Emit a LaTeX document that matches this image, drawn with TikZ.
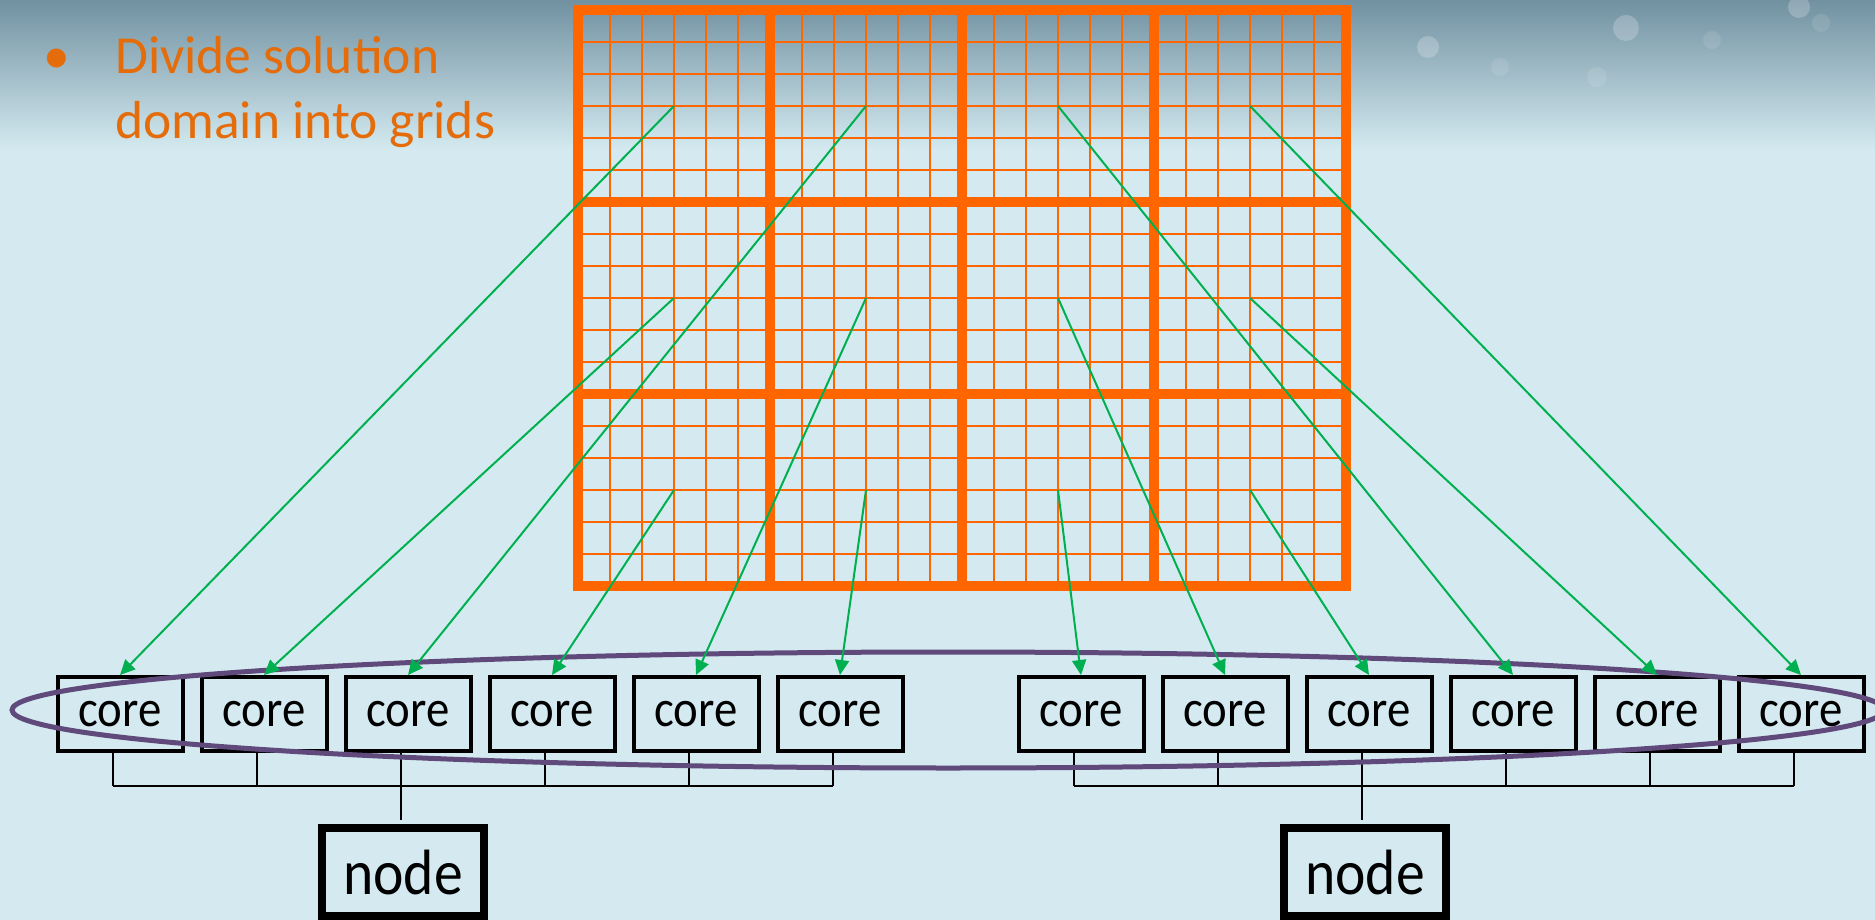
\documentclass[tikz,border=0pt]{standalone}
\usepackage{xcolor}
\usepackage{tikz}
\usepackage{fontspec}
\setmainfont{Carlito}
\newfontfamily\boxfont[FakeStretch=0.9]{Carlito}
\usetikzlibrary{arrows.meta}
\definecolor{gridorange}{HTML}{FF6600}
\definecolor{textorange}{HTML}{E46C0A}
\definecolor{feedgreen}{HTML}{00B050}
\definecolor{ringpurple}{HTML}{604A7B}
\definecolor{skylight}{HTML}{D4EAF0}
\definecolor{skydark}{HTML}{7191A1}
\tikzset{
  finegrid/.style={gridorange,line width=2.8pt},
  blockgrid/.style={gridorange,line width=10.5pt,line cap=rect},
  corebox/.style={draw=black,line width=4pt,minimum width=125pt,minimum height=74pt,inner sep=0pt,font=\boxfont\fontsize{52}{60}\selectfont},
  nodebox/.style={draw=black,line width=7.5pt,minimum width=162pt,minimum height=88pt,inner sep=0pt,font=\boxfont\fontsize{64}{72}\selectfont},
  feed/.style={feedgreen,line width=2pt,-{Triangle[length=15pt,width=14pt]}},
  bus/.style={black,line width=1.5pt},
  ring/.style={ringpurple,line width=5pt},
  glint/.style={white,opacity=0.22},
  heading/.style={text=textorange,inner sep=0pt,font=\fontsize{53.5}{64.3}\selectfont}
}

\begin{document}
\begin{tikzpicture}[x=1pt,y=-1pt]
  \useasboundingbox (0,0) rectangle (1875,920);
  \fill[skylight] (0,0) rectangle (1875,920);
  \shade[top color=skydark,bottom color=skylight] (0,0) rectangle (1875,150);
  \fill[glint] (1428,47) circle[radius=11];
  \fill[glint] (1626,28) circle[radius=13];
  \fill[glint] (1799,7) circle[radius=11];
  \fill[glint,opacity=0.1] (1500,67) circle[radius=9];
  \fill[glint,opacity=0.1] (1597,77) circle[radius=10];
  \fill[glint,opacity=0.1] (1712,40) circle[radius=9];
  \fill[glint,opacity=0.1] (1821,23) circle[radius=9];

  \node[heading,anchor=base] (dot) at (57,74) {•};
  \node[heading,anchor=base west,align=left] (title) at (115,138.3) {Divide solution\\domain into grids};

  \begin{scope}[shift={(578,10)}]
    \draw[finegrid] (0,576) grid[step=32pt] (768,0);
    \draw[blockgrid] (0,576) grid[step=192pt] (768,0);
  \end{scope}
  \foreach \c in {0,...,3}
    \foreach \r in {0,1,2}
      \coordinate (b\c\r) at ({674+192*\c},{106+192*\r});

  \node[corebox] (c1) at (120,714) {core};
  \node[corebox] (c2) at (264,714) {core};
  \node[corebox] (c3) at (408,714) {core};
  \node[corebox] (c4) at (552,714) {core};
  \node[corebox] (c5) at (696,714) {core};
  \node[corebox] (c6) at (840,714) {core};
  \node[corebox] (c7) at (1081,714) {core};
  \node[corebox] (c8) at (1225,714) {core};
  \node[corebox] (c9) at (1369,714) {core};
  \node[corebox] (c10) at (1513,714) {core};
  \node[corebox] (c11) at (1657,714) {core};
  \node[corebox] (c12) at (1801,714) {core};
  \node[nodebox] (n1) at (403,872) {node};
  \node[nodebox] (n2) at (1365,872) {node};

  \foreach \i in {1,...,12}
    \draw[bus] ([xshift=-7pt]c\i.south) -- ++(0,33);
  \draw[bus] ([xshift=-7pt,yshift=-33pt]c1.south) -- ([xshift=-7pt,yshift=-33pt]c6.south);
  \draw[bus] ([xshift=-7pt,yshift=-33pt]c7.south) -- ([xshift=-7pt,yshift=-33pt]c12.south);
  \draw[bus,shorten >=4pt] ([xshift=-7pt]c3.south) -- ([xshift=-7pt]c3.south |- n1.north);
  \draw[bus,shorten >=4pt] ([xshift=-7pt]c9.south) -- ([xshift=-7pt]c9.south |- n2.north);

  \draw[ring] (948,710) ellipse[x radius=936,y radius=58];

  \draw[feed] (b00) -- (c1.north);
  \draw[feed] (b01) -- (c2.north);
  \draw[feed] (b10) -- (c3.north);
  \draw[feed] (b02) -- (c4.north);
  \draw[feed] (b11) -- (c5.north);
  \draw[feed] (b12) -- (c6.north);
  \draw[feed] (b22) -- (c7.north);
  \draw[feed] (b21) -- (c8.north);
  \draw[feed] (b32) -- (c9.north);
  \draw[feed] (b20) -- (c10.north);
  \draw[feed] (b31) -- (c11.north);
  \draw[feed] (b30) -- (c12.north);
\end{tikzpicture}
\end{document}
